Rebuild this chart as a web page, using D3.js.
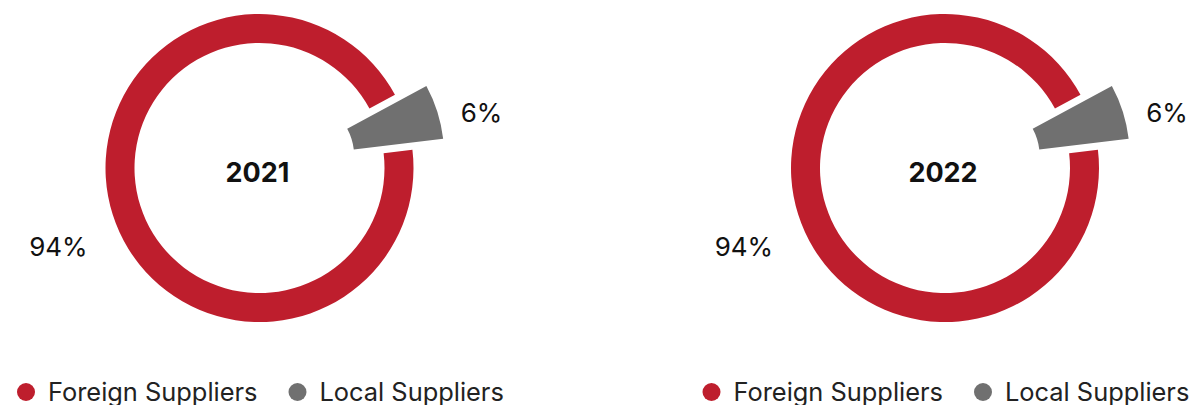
<!DOCTYPE html>
<html>
<head>
<meta charset="utf-8">
<script src="https://cdn.jsdelivr.net/npm/d3@7"></script>
<style>
  html, body { margin: 0; padding: 0; background: #fff; }
  svg { display: block; font-family: Inter, "Noto Sans", sans-serif; }
</style>
</head>
<body>
<svg id="chart" width="1189" height="405"></svg>
<script>
const years = ["2021", "2022"];
const categories = ["Local Suppliers", "Foreign Suppliers"];
const legendOrder = ["Foreign Suppliers", "Local Suppliers"];
const values2021 = [6, 94];
const values2022 = [6, 94];
const labels2021 = ["6%", "94%"];
const labels2022 = ["6%", "94%"];
const colors = ["#707070", "#BE1E2D"];

const seriesValues = [values2021, values2022];
const seriesLabels = [labels2021, labels2022];

const svg = d3.select("#chart");
const centersX = [259.5, 945];
const cy = 168;
const color = d3.scaleOrdinal().domain(categories).range(colors);

const startDeg = 61.6;
const pie = d3.pie().sort(null).value(d => d.v)
  .startAngle(startDeg * Math.PI / 180)
  .endAngle((startDeg + 360) * Math.PI / 180);

const ringArc = d3.arc().innerRadius(125).outerRadius(154);
const explodedArc = d3.arc().innerRadius(58).outerRadius(148);
const explodeDist = 38.5;

years.forEach((yr, i) => {
  const cx = centersX[i];
  const data = categories.map((c, j) => ({ c, v: seriesValues[i][j], label: seriesLabels[i][j] }));
  const arcs = pie(data);
  const g = svg.append("g").attr("transform", `translate(${cx},${cy})`);

  g.selectAll("path.slice").data(arcs).enter().append("path")
    .attr("class", "slice")
    .attr("fill", d => color(d.data.c))
    .attr("d", d => d.data.c === "Local Suppliers" ? explodedArc(d) : ringArc(d))
    .attr("transform", d => {
      if (d.data.c !== "Local Suppliers") return null;
      const a = (d.startAngle + d.endAngle) / 2;
      return `translate(${explodeDist * Math.sin(a)},${-explodeDist * Math.cos(a)})`;
    });

  g.selectAll("text.pct").data(arcs).enter().append("text")
    .attr("class", "pct")
    .attr("text-anchor", "middle")
    .attr("font-size", 26)
    .attr("fill", "#111")
    .attr("x", d => {
      const a = (d.startAngle + d.endAngle) / 2;
      const r = d.data.c === "Local Suppliers" ? 233 : 211;
      return r * Math.sin(a);
    })
    .attr("y", d => {
      const a = (d.startAngle + d.endAngle) / 2;
      const r = d.data.c === "Local Suppliers" ? 233 : 211;
      return -r * Math.cos(a) + 24;
    })
    .text(d => d.data.label);

  g.append("text")
    .attr("text-anchor", "middle")
    .attr("x", -2)
    .attr("y", 13.5)
    .attr("font-size", 27)
    .attr("font-weight", 700)
    .attr("fill", "#111")
    .text(yr);

  // legend
  const lg = svg.append("g").attr("transform", `translate(${cx - 233.5},392)`);
  let x = 0;
  legendOrder.forEach(name => {
    lg.append("circle").attr("cx", x).attr("cy", 0).attr("r", 9).attr("fill", color(name));
    const t = lg.append("text").attr("x", x + 22).attr("y", 8.5)
      .attr("font-size", 25.4).attr("fill", "#222").text(name);
    const w = t.node().getComputedTextLength();
    x = x + 22 + w + 40;
  });
});
</script>
</body>
</html>
